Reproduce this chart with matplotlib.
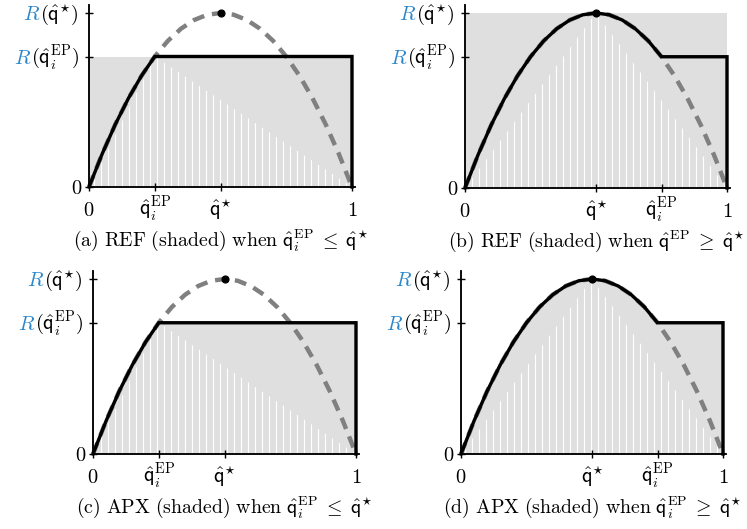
import numpy as np
import matplotlib
matplotlib.use('Agg')
import matplotlib.pyplot as plt
from matplotlib import transforms

plt.rcParams['mathtext.fontset'] = 'cm'
plt.rcParams['hatch.linewidth'] = 1.0

DPI = 84
W, H = 747, 529

# revenue curve (quantile q, revenue normalised so R(q*) = 1)
q_pts = [0.00, 0.05, 0.10, 0.15, 0.20, 0.25, 0.30, 0.35, 0.40, 0.45, 0.50,
         0.55, 0.60, 0.65, 0.70, 0.75, 0.80, 0.85, 0.90, 0.95, 1.00]
R_pts = [0.00, 0.19, 0.36, 0.51, 0.64, 0.75, 0.84, 0.91, 0.96, 0.99, 1.00,
         0.99, 0.96, 0.91, 0.84, 0.75, 0.64, 0.51, 0.36, 0.19, 0.00]
q_star = 0.5
R_star = 1.0
q_ep = [0.25, 0.75, 0.25, 0.75]
R_ep = [0.75, 0.75, 0.75, 0.75]
shade = ['rect', 'rect', 'under', 'under']
captions = [
    r"$\mathrm{(a)\ REF\ (shaded)\ when\ }\hat{\mathsf{q}}_i^{\mathrm{EP}}\;\leq\;\hat{\mathsf{q}}^{\star}$",
    r"$\mathrm{(b)\ REF\ (shaded)\ when\ }\hat{\mathsf{q}}^{\mathrm{EP}}\;\geq\;\hat{\mathsf{q}}^{\star}$",
    r"$\mathrm{(c)\ APX\ (shaded)\ when\ }\hat{\mathsf{q}}_i^{\mathrm{EP}}\;\leq\;\hat{\mathsf{q}}^{\star}$",
    r"$\mathrm{(d)\ APX\ (shaded)\ when\ }\hat{\mathsf{q}}_i^{\mathrm{EP}}\;\geq\;\hat{\mathsf{q}}^{\star}$",
]
lab_qep = r"$\hat{\mathsf{q}}_i^{\mathrm{EP}}$"
lab_qstar = r"$\hat{\mathsf{q}}^{\star}$"
ylab_qstar = r"$(\hat{\mathsf{q}}^{\star})$"
ylab_qep = r"$(\hat{\mathsf{q}}_i^{\mathrm{EP}})$"

# panel placement in pixels: left (x=0), x=1, y=0, y=R*
boxes = [(89, 352, 187, 13), (465, 727, 188, 13),
         (93, 356, 454, 279), (461, 723, 454, 279)]

GRAY = '#dfdfdf'
DASH = '#808080'
BLUE = '#2b87cb'
FS = 17.5
CFS = 17
XR = 1.011
YT = 1.046

fig = plt.figure(figsize=(W / DPI, H / DPI), dpi=DPI)
qa = np.array(q_pts)
Ra = np.array(R_pts)

def px(v):
    return v / DPI

for k in range(4):
    L, X1, Y0, YR = boxes[k]
    ax = fig.add_axes([L / W, 1 - Y0 / H, (X1 - L) * XR / W, (Y0 - YR) * YT / H])
    ax.set_xlim(0, XR)
    ax.set_ylim(0, YT)
    qe, re = q_ep[k], R_ep[k]

    # envelope (black): curve up to q_ep, flat to 1, then down
    m = qa <= qe + 1e-9
    env_q = np.concatenate([qa[m], [1.0, 1.0]])
    env_R = np.concatenate([Ra[m], [re, 0.0]])

    if shade[k] == 'rect':
        top = R_star if qe > q_star else re
        ax.fill_between([0, 1], 0, top, facecolor=GRAY, linewidth=0, zorder=1)
    else:
        ax.fill_between(env_q[:-1], 0, env_R[:-1], facecolor=GRAY, linewidth=0, zorder=1)

    apex_q = qe if qe <= q_star else q_star
    apex_R = re if qe <= q_star else R_star
    ax.fill([0, apex_q, 1], [0, apex_R, 0], facecolor='none', edgecolor='white',
            hatch='||', linewidth=0, zorder=1.5)

    ax.plot(qa, Ra, color=DASH, lw=3.8, linestyle=(0, (2.7, 1.8)),
            zorder=2, clip_on=False, solid_capstyle='butt')
    ax.plot(env_q, env_R, color='black', lw=2.9, zorder=3, clip_on=False,
            solid_joinstyle='miter')
    ax.plot([q_star], [R_star], 'o', color='black', ms=6, zorder=4, clip_on=False)

    for s in ['top', 'right']:
        ax.spines[s].set_visible(False)
    for s in ['left', 'bottom']:
        ax.spines[s].set_linewidth(1.6)
        ax.spines[s].set_zorder(3.5)
    xt = [0, qe, q_star, 1] if qe < q_star else [0, q_star, qe, 1]
    xl = ["$0$", lab_qep, lab_qstar, "$1$"] if qe < q_star else ["$0$", lab_qstar, lab_qep, "$1$"]
    ax.set_xticks(xt)
    ax.set_yticks([0, re, R_star])
    ax.tick_params(direction='inout', length=6.9, width=1.2,
                   labelbottom=False, labelleft=False)

    tx = transforms.blended_transform_factory(ax.transData, ax.transAxes) + \
        transforms.ScaledTranslation(0, px(-29), fig.dpi_scale_trans)
    for xv, s in zip(xt, xl):
        ax.text(xv, 0, s, transform=tx, ha='center', va='baseline', fontsize=FS)

    by = transforms.blended_transform_factory(ax.transAxes, ax.transData)
    t0 = by + transforms.ScaledTranslation(px(-7), px(-7), fig.dpi_scale_trans)
    ax.text(0, 0, "$0$", transform=t0, ha='right', va='baseline', fontsize=FS)
    ty = by + transforms.ScaledTranslation(px(-10), px(-7), fig.dpi_scale_trans)
    for yv, s in [(re, ylab_qep), (R_star, ylab_qstar)]:
        bt = ax.text(0, yv, s, transform=ty, ha='right', va='baseline', fontsize=FS)
        ax.annotate("$R$", xy=(0, yv), xycoords=(bt, ty), ha='right', va='baseline',
                    fontsize=FS, color=BLUE, annotation_clip=False)

    tc = transforms.blended_transform_factory(ax.transData, ax.transAxes) + \
        transforms.ScaledTranslation(0, px(-59), fig.dpi_scale_trans)
    ax.text(0.5, 0, captions[k], transform=tc, ha='center', va='baseline', fontsize=CFS)

fig.savefig('out.png', dpi=DPI)
